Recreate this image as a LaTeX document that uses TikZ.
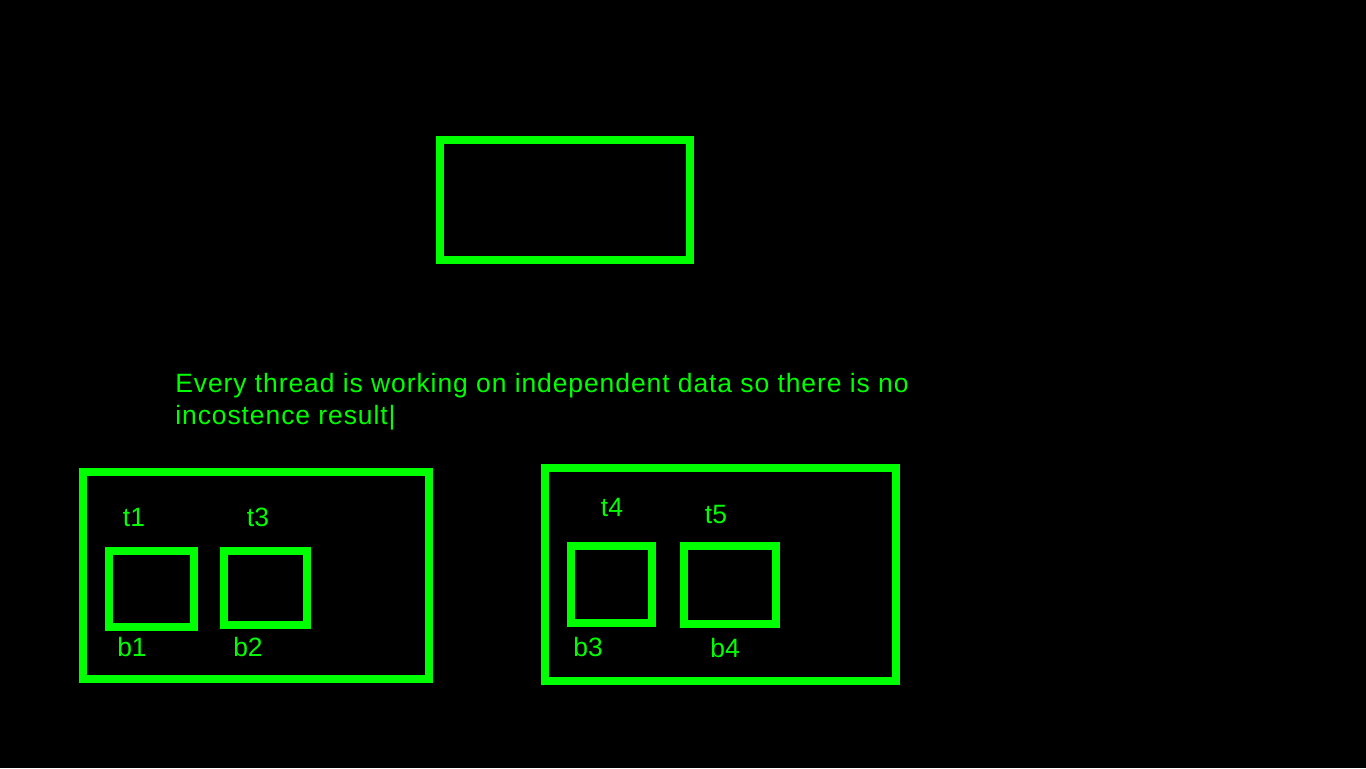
\documentclass[tikz,border=0pt]{standalone}
\usepackage{fontspec}
\setmainfont{Liberation Sans}
\newfontfamily\widefont[LetterSpace=3.4]{Liberation Sans}
\begin{document}
\begin{tikzpicture}[x=0.5pt,y=-0.5pt,
  box/.style={draw=neon,line width=3.9pt,rectangle,inner sep=0pt,outer sep=0pt},
  lbl/.style={text=neon,font=\fontsize{13.25}{16}\selectfont,inner sep=0pt},
  note/.style={text=neon,font=\widefont\fontsize{13.25}{16}\selectfont,inner sep=0pt,align=left}]
\definecolor{neon}{HTML}{00FF00}
\fill[black] (0,0) rectangle (1366,768);
\useasboundingbox (0,0) rectangle (1366,768);
% top box
\node[box,minimum width=125pt,minimum height=60pt] (top) at (565,200) {};
% text
\node[note,anchor=base west] (txt) at (175,424) {Every thread is working on independent data so there is no\\incostence result|};
% left group
\node[box,minimum width=173pt,minimum height=103.5pt] (left) at (256,575.5) {};
\node[box,minimum width=42.5pt,minimum height=38pt] (b1) at (151.5,589) {};
\node[box,minimum width=41.5pt,minimum height=37pt] (b2) at (265.5,588) {};
\node[lbl] (t1) at (134,517) {t1};
\node[lbl] (t3) at (258,517) {t3};
\node[lbl] (lb1) at (132,647) {b1};
\node[lbl] (lb2) at (248,647) {b2};
% right group
\node[box,minimum width=175.5pt,minimum height=106.5pt] (right) at (720.5,574.5) {};
\node[box,minimum width=40.5pt,minimum height=38.5pt] (b3) at (611.5,584.5) {};
\node[box,minimum width=46pt,minimum height=39pt] (b4) at (730,585) {};
\node[lbl] (t4) at (612,507) {t4};
\node[lbl] (t5) at (716,514) {t5};
\node[lbl] (lb3) at (588,647) {b3};
\node[lbl] (lb4) at (725,648) {b4};
\end{tikzpicture}
\end{document}
